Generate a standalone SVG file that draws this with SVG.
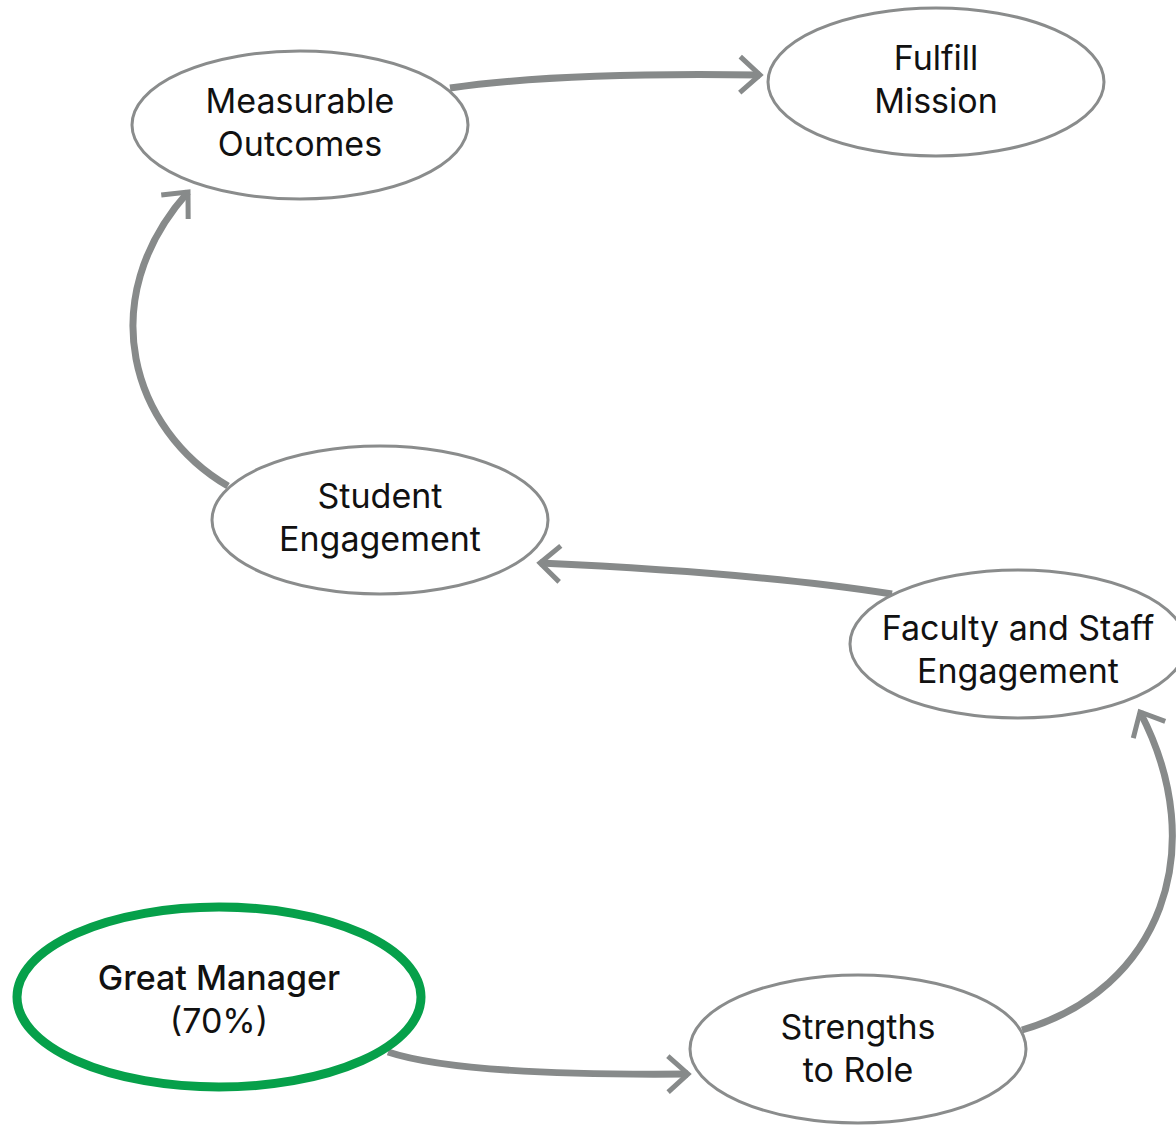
<svg xmlns="http://www.w3.org/2000/svg" width="1176" height="1125" viewBox="0 0 1176 1125">
<style>
.node{fill:#fff;stroke:#8a8c8c;stroke-width:3}
.hl{fill:#fff;stroke:#06a04a;stroke-width:9}
.lbl{font-family:Inter,"Noto Sans",sans-serif;font-size:34px;fill:#111;text-anchor:middle}
.b{font-weight:500}
.conn{fill:none;stroke:#878a8a;stroke-width:7}
</style>
<defs>
<marker id="arr" markerUnits="userSpaceOnUse" markerWidth="40" markerHeight="40" viewBox="-30 -20 40 40" refX="0" refY="0" orient="auto" overflow="visible">
<path d="M-20,-18 L0,0 L-20,18" fill="none" stroke="#878a8a" stroke-width="5"/>
</marker>
</defs>
<g id="connectors">
<path class="conn" d="M450,88 Q560,72 760,75" marker-end="url(#arr)"/>
<path class="conn" d="M228,486 C132,430 92,300 188,192" marker-end="url(#arr)"/>
<path class="conn" d="M892,594 Q760,573 540,563" marker-end="url(#arr)"/>
<path class="conn" d="M1022,1030 C1160,990 1212,850 1140,712" marker-end="url(#arr)"/>
<path class="conn" d="M388,1052 Q460,1076 688,1074" marker-end="url(#arr)"/>
</g>
<g id="measurable">
<ellipse class="node" cx="300" cy="125" rx="168" ry="74"/>
<text class="lbl" x="300" y="113">Measurable</text>
<text class="lbl" x="300" y="156">Outcomes</text>
</g>
<g id="fulfill">
<ellipse class="node" cx="936" cy="82" rx="168" ry="74"/>
<text class="lbl" x="936" y="70">Fulfill</text>
<text class="lbl" x="936" y="113">Mission</text>
</g>
<g id="student">
<ellipse class="node" cx="380" cy="520" rx="168" ry="74"/>
<text class="lbl" x="380" y="508">Student</text>
<text class="lbl" x="380" y="551">Engagement</text>
</g>
<g id="faculty">
<ellipse class="node" cx="1018" cy="644" rx="168" ry="74"/>
<text class="lbl" x="1018" y="640">Faculty and Staff</text>
<text class="lbl" x="1018" y="683">Engagement</text>
</g>
<g id="manager">
<ellipse class="hl" cx="219" cy="997" rx="202" ry="90"/>
<text class="lbl b" x="219" y="990">Great Manager</text>
<text class="lbl" x="219" y="1033">(70%)</text>
</g>
<g id="strengths">
<ellipse class="node" cx="858" cy="1049" rx="168" ry="74"/>
<text class="lbl" x="858" y="1039">Strengths</text>
<text class="lbl" x="858" y="1082">to Role</text>
</g>
</svg>
